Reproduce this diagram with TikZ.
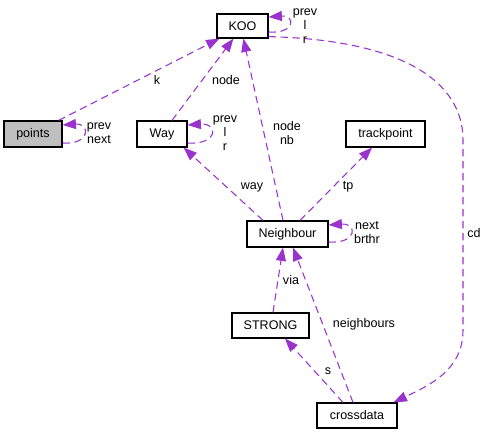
\documentclass[tikz,border=0pt]{standalone}
\usepackage{fontspec}
\setmainfont{Liberation Sans}
\usetikzlibrary{arrows.meta}
\usetikzlibrary{calc}

\begin{document}
\begin{tikzpicture}[x=0.75pt,y=-0.75pt,
        font=\fontsize{9.4}{10.5}\selectfont,
        cls/.style={draw=black,line width=0.9pt,fill=white,inner sep=0pt},
        rel/.style={color={rgb,255:red,154;green,50;blue,205},line width=0.8pt,
            dash pattern=on 5.5pt off 3.5pt,-{Triangle[length=10pt,width=7.5pt]}},
        lbl/.style={align=center,inner sep=0pt}]
        \useasboundingbox (0,0) rectangle (487,435);

        % classes
        \node[cls,minimum width=51*0.75pt,minimum height=24*0.75pt] (koo) at (242.5,26) {KOO};
        \node[cls,fill={rgb,255:red,191;green,191;blue,191},minimum width=58*0.75pt,minimum height=26*0.75pt] (points) at (33,134) {points};
        \node[cls,minimum width=50*0.75pt,minimum height=26*0.75pt] (way) at (162,134) {Way};
        \node[cls,minimum width=79*0.75pt,minimum height=26*0.75pt] (trackpoint) at (385.5,134) {trackpoint};
        \node[cls,minimum width=81*0.75pt,minimum height=26*0.75pt] (neighbour) at (287.5,234) {Neighbour};
        \node[cls,minimum width=77*0.75pt,minimum height=25*0.75pt] (strong) at (270.5,325.5) {STRONG};
        \node[cls,minimum width=80*0.75pt,minimum height=25*0.75pt] (crossdata) at (357,415.5) {crossdata};

        % members
        \draw[rel] ($(points.north east)+(-4,0)$) -- ($(koo.south west)+(3,0)$);
        \draw[rel] ($(way.north)+(10,0)$) -- ($(koo.south west)+(17,0)$);
        \draw[rel] ($(neighbour.north)+(-4.5,0)$) -- ($(koo.south west)+(27,0)$);
        \draw[rel] ($(neighbour.north)+(-24.5,0)$) -- ($(way.south east)+(-4,0)$);
        \draw[rel] ($(neighbour.north)+(12.5,0)$) -- ($(trackpoint.south)+(-13.5,0)$);
        \draw[rel] ($(strong.north)+(2.5,0)$) -- ($(neighbour.south)+(-4.5,0)$);
        \draw[rel] ($(crossdata.north)+(-4,0)$) -- ($(neighbour.south)+(5.5,0)$);
        \draw[rel] ($(crossdata.north)+(-14,0)$) -- ($(strong.south)+(14.5,0)$);
        \draw[rel] ($(koo.south east)+(0,-2)$) .. controls (400,40) and (463,80) .. (463,140)
            -- (463,330) .. controls (463,370) and (430,385) .. ($(crossdata.north east)+(-4,0)$);

        % self references
        \draw[rel] ($(koo.east)+(0,6)$) .. controls +(27,2) and +(27,-2) .. ($(koo.east)+(0,-9)$);
        \draw[rel] ($(points.east)+(0,9)$) .. controls +(28,2) and +(28,-2) .. ($(points.east)+(0,-9)$);
        \draw[rel] ($(way.east)+(0,9)$) .. controls +(31,2) and +(31,-2) .. ($(way.east)+(0,-9)$);
        \draw[rel] ($(neighbour.east)+(0,8)$) .. controls +(29,2) and +(29,-2) .. ($(neighbour.east)+(0,-9)$);

        % labels
        \node[lbl] (lk) at (157,80) {k};
        \node[lbl] (lnode) at (226,80) {node};
        \node[lbl] (lnodenb) at (287,133) {node\\nb};
        \node[lbl] (lway) at (252,187) {way};
        \node[lbl] (ltp) at (348,187) {tp};
        \node[lbl] (lvia) at (291,280) {via};
        \node[lbl] (lneighbours) at (364,324) {neighbours};
        \node[lbl] (ls) at (328,371) {s};
        \node[lbl] (lcd) at (474,233) {cd};
        \node[lbl] (lkooself) at (305,26) {prev\\l\\r};
        \node[lbl] (lpointsself) at (99,133.5) {prev\\next};
        \node[lbl] (lwayself) at (225,133) {prev\\l\\r};
        \node[lbl] (lneighbourself) at (367,233) {next\\brthr};
\end{tikzpicture}
\end{document}
